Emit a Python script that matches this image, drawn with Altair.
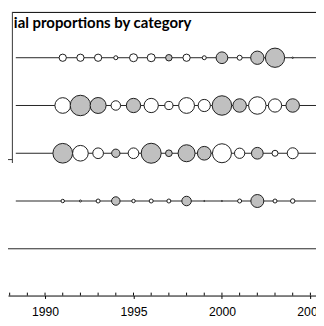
import altair as alt
import pandas as pd

# ---- data ----
years = list(range(1991, 2005))
rows = ["Category 1", "Category 2", "Category 3", "Category 4"]
empty_row = "Category 5"
row_values = [
    [5.3, 5.3, 5.3, 1.6, 6.4, 6.4, 4.2, 5.3, 1.6, 13.7, 2.5, 17.7, 37.2, 0.2],
    [24.6, 42.0, 25.6, 9.0, 20.4, 20.4, 6.7, 25.0, 14.9, 38.0, 18.2, 30.6, 17.7, 18.2],
    [38.8, 24.6, 11.4, 6.9, 11.4, 40.0, 4.5, 28.9, 18.8, 36.1, 10.6, 13.7, 3.6, 12.1],
    [1.2, 0.4, 1.6, 7.2, 1.2, 1.6, 1.6, 9.0, 0.1, 0.1, 1.6, 16.9, 1.6, 2.0],
]
# H = higher (grey), L = lower (white)
row_groups = [
    "LLLLLLHLLHLHHL",
    "LHHLHLLLLHHLLH",
    "HLLHLHHHHLLHLL",
    "LLLHLLLHLLLHLL",
]
title_text = "ial proportions by category"
major_ticks = [1990, 1995, 2000, 2005]
minor_ticks = list(range(1988, 2006))

# ---- tables ----
recs = []
for ri, (vals, grp) in enumerate(zip(row_values, row_groups)):
    for yr, v, g in zip(years, vals, grp):
        recs.append({"row": ri, "category": rows[ri], "year": yr, "value": v,
                     "group": "Higher" if g == "H" else "Lower"})
points = pd.DataFrame(recs)
lines_a = pd.DataFrame({"row": list(range(len(rows))), "category": rows})
lines_b = pd.DataFrame({"row": [len(rows)], "category": [empty_row]})
ticks = pd.DataFrame({"year": minor_ticks})
title_df = pd.DataFrame({"label": [title_text]})
one = pd.DataFrame({"k": [0]})

W, H = 316, 291
xscale = alt.Scale(domain=[1987.906, 2005.317], nice=False, zero=False)
yscale = alt.Scale(domain=[-0.95918, 4.97959], reverse=True, nice=False, zero=False)
xaxis = alt.Axis(values=major_ticks, format="d", tickSize=3, tickColor="black",
                 tickWidth=1, domainColor="black", domainWidth=1,
                 labelColor="black", labelFont="Liberation Sans", labelFontSize=12.5,
                 labelPadding=7.5, labelFlush=False, labelOverlap=False,
                 grid=False, title=None)
line_col = "#222222"

row_lines = alt.Chart(lines_a).mark_rule(color=line_col, strokeWidth=1).encode(
    y=alt.Y("row:Q", scale=yscale, axis=None),
    x=alt.value(8), x2=alt.value(W))
row_line_empty = alt.Chart(lines_b).mark_rule(color=line_col, strokeWidth=1).encode(
    y=alt.Y("row:Q", scale=yscale, axis=None),
    x=alt.value(0), x2=alt.value(W))

circles = alt.Chart(points).mark_circle(stroke="#1a1a1a", strokeWidth=1, opacity=1).encode(
    x=alt.X("year:Q", scale=xscale, axis=xaxis),
    y=alt.Y("row:Q", scale=yscale, axis=None),
    size=alt.Size("value:Q", scale=alt.Scale(domain=[0, 40], range=[0, 420]), legend=None),
    color=alt.Color("group:N", scale=alt.Scale(domain=["Higher", "Lower"],
                                               range=["#c0c0c0", "#ffffff"]), legend=None),
)

inner_ticks = alt.Chart(ticks).mark_rule(color="black", strokeWidth=1).encode(
    x=alt.X("year:Q", scale=xscale, axis=xaxis),
    y=alt.value(H - 3), y2=alt.value(H))

top_line = alt.Chart(one).mark_rule(color="black", strokeWidth=1).encode(
    x=alt.value(4.5), x2=alt.value(W), y=alt.value(0.5))
v_line = alt.Chart(one).mark_rule(color="#333333", strokeWidth=1).encode(
    x=alt.value(4.5), y=alt.value(0), y2=alt.value(155))
short_line = alt.Chart(one).mark_rule(color="#333333", strokeWidth=1).encode(
    x=alt.value(0), x2=alt.value(4.5), y=alt.value(151.5))

title = alt.Chart(title_df).mark_text(font="Lato", fontWeight="bold", fontSize=15.3,
                                      align="left", baseline="alphabetic",
                                      color="black").encode(
    x=alt.value(6), y=alt.value(17), text="label:N")

chart = alt.layer(
    row_lines, row_line_empty, inner_ticks, circles,
    top_line, v_line, short_line, title
).properties(
    width=W, height=H,
    autosize=alt.AutoSizeParams(type="none"),
    padding={"left": 0, "top": 0, "right": 0, "bottom": 19},
).configure_view(strokeWidth=0)

chart.save("out.html", embed_options={"renderer": "svg", "actions": False})
